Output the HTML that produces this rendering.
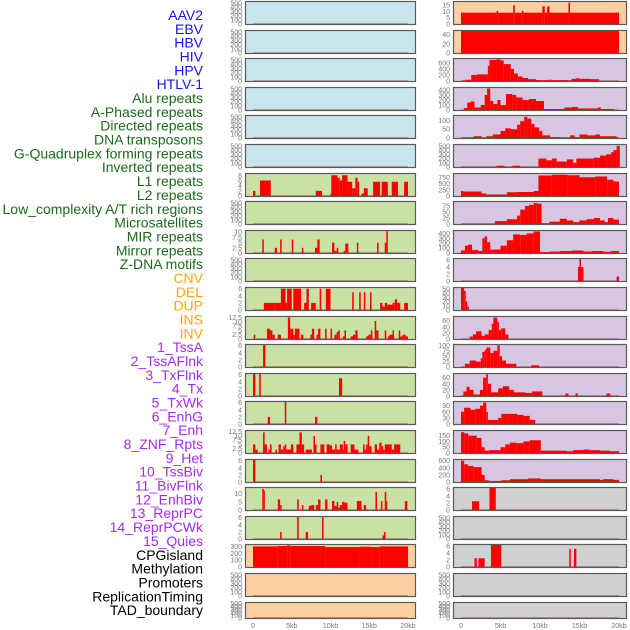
<!DOCTYPE html>
<html><head><meta charset="utf-8"><style>
html,body{margin:0;padding:0;background:#fff;width:630px;height:630px;overflow:hidden}
svg{display:block}
text{font-family:"Liberation Sans",sans-serif}
</style></head><body>
<svg id="chart" width="630" height="630" viewBox="0 0 630 630"></svg>
<script>
const labelNames=["AAV2","EBV","HBV","HIV","HPV","HTLV-1","Alu repeats","A-Phased repeats","Directed repeats","DNA transposons","G-Quadruplex forming repeats","Inverted repeats","L1 repeats","L2 repeats","Low_complexity A/T rich regions","Microsatellites","MIR repeats","Mirror repeats","Z-DNA motifs","CNV","DEL","DUP","INS","INV","1_TssA","2_TssAFlnk","3_TxFlnk","4_Tx","5_TxWk","6_EnhG","7_Enh","8_ZNF_Rpts","9_Het","10_TssBiv","11_BivFlnk","12_EnhBiv","13_ReprPC","14_ReprPCWk","15_Quies","CPGisland","Methylation","Promoters","ReplicationTiming","TAD_boundary"];
const labelGroups=[6,13,5,15,5];
const groupColors=["#1414f0","#1a6b1a","#ffa500","#a32cf0","#000000"];
const xTickVals=[0,5,10,15,20];
const xTickLabels=["0","5kb","10kb","15kb","20kb"];
const T500=[0,100,200,300,400,500];
// left column panels: ticks, ymax, step edges (kb), step values
const leftTicks=[T500,T500,T500,T500,T500,T500,[0,2,4,6,8],T500,[0,2.5,5,7.5,10],T500,[0,2,4,6],[0,2.5,5,7.5,10,12.5],[0,2,4,6],[0,2,4,6],[0,2,4,6],[0,2.5,5,7.5,10,12.5],[0,2,4,6],[0,5,10],[0,2,4,6],[0,100,200,300],T500,T500];
const leftYmax=[520,520,520,520,520,520,8.5,520,10.6,520,6.2,12.8,6.2,6.2,6.2,12.8,6.2,13.5,6.2,320,520,520];
const leftEdges=[[],[],[],[],[],[],
[0,0.3,0.9,2.3,8.1,8.9,10.0,10.1,10.9,11.2,11.5,12.2,12.8,13.2,13.5,13.7,14.0,14.3,14.8,15.5,16.4,16.6,17.4,17.9,18.7,19.5,20.0],
[],
[1.2,1.4,2.8,3.1,3.5,3.7,5.0,5.2,6.3,6.5,8.0,8.3,8.6,10.2,10.5,10.8,11.0,11.7,11.9,12.3,13.4,13.6,16.0,16.2,17.0,17.2,17.4],
[],
[1.4,2.8,3.6,4.2,4.4,5.0,5.2,6.2,6.6,6.9,7.2,7.5,8.1,8.6,8.8,9.4,10.0,12.8,13.0,13.7,13.9,14.3,14.5,15.1,15.3,16.4,16.7,17.0,17.3,18.0,18.3,18.6,19.0,19.5,20.0],
[0.1,0.3,1.8,2.2,2.5,2.8,3.2,3.6,4.5,4.8,5.2,5.4,6.0,6.2,6.5,7.4,7.6,7.9,8.2,8.4,8.7,9.3,9.5,10.0,10.2,10.5,10.8,11.0,11.2,11.6,11.8,12.0,12.6,12.9,13.2,13.5,14.6,14.9,15.2,15.4,15.7,15.9,16.2,17.0,17.2,17.4,17.6,18.0,18.2,18.8,19.0,19.3,19.7,20.0],
[1.3,1.6],
[0,0.3,0.8,1.0,11.1,11.5],
[1.9,2.2,4.1,4.3,8.0,8.3],
[0,0.3,0.6,1.3,1.5,1.8,2.0,2.2,2.4,2.9,3.1,3.3,3.6,3.9,4.1,4.3,4.9,5.2,5.6,6.0,6.3,6.6,6.8,7.3,7.6,7.8,8.0,8.2,8.7,9.2,9.5,9.9,10.2,10.6,10.8,11.2,11.6,11.7,11.9,12.2,12.6,13.1,13.6,14.2,14.4,14.6,14.8,15.0,15.3,15.7,16.0,16.3,16.6,16.8,17.0,17.9,18.2,18.5,19.0],
[0,0.3,8.7,8.9],
[1.2,1.4,1.5,3.2,3.5,3.7,5.7,5.9,6.3,6.5,7.2,7.5,7.9,8.1,8.4,8.7,9.3,9.6,10.2,10.5,10.8,11.0,11.2,11.5,11.8,12.2,13.4,14.0,14.3,14.6,15.8,16.0,16.5,16.7,17.0,17.2,17.3,19.6,19.9],
[3.5,3.7,5.7,5.9,6.8,7.1,8.9,9.1,16.7,16.9,17.1],
[0,3.2,4.4,4.8,9.3,13.8,15.3,16.3,20],
[],[]];
const leftVals=[[],[],[],[],[],[],
[2,0,6,0,2,0,1,8,7,6,8,5.5,3,7,5.5,0,1,3,0,5.5,0,5.5,0,5.5,0,5.5],
[],
[6.5,0,2.5,0,6.5,0,6.5,0,2.5,0,2.5,6.5,0,5,1,2.5,0,1,4.5,0,5,0,5,0,5,10.5],
[],
[2,2,6,2,6,0,6,0,2,6,0,2,0,6,0,6,0,5,0,5,0,5,0,5,0,2,1,2,1.5,2,3,2,0,2],
[2.5,0,6,5,2.5,0,2.5,0,12.5,6,2.5,6,0,2.5,0,2.5,6,0,2.5,6,0,6,0,6,0,2.5,4,5,0,1.5,5,0,1.5,2.5,5,0,1.5,2.5,5,0,10.5,5,0,5,0,1.5,2.5,5,0,5,1.5,2.5,1.5],
[6.2],
[6.2,0,6.2,0,5],
[2,0,6.2,0,2],
[5,2,0,12,5,0,2,5,0,2,0,5,2,4,5,2,5,0,5,12,5,0,2,2,0,10,5,0,5,0,5,4.5,2,5,2,5,2,7,5,0,5,2,0,5,2,5,10,4,0,5,2,6,4,2,5,2,5,5],
[6.2,0,2],
[13,12,0,6.5,3,0,6.5,0,3,0,2.5,3,0,3,6.5,0,6.5,0,5.5,2.5,5,1.5,3,5,4.5,0,5.5,0,3,0,11,0,5.5,0,11,5.5,0,5.5],
[2,0,6.2,0,2,0,6.2,0,1,2],
[300,305,315,305,290,295,290,300],
[],[]];
const rightTicks=[[0,5,10,15],[0,20,40],[0,200,400,600],[0,100,200,300,400],[0,50,100],T500,[0,250,500,750],[0,25,50,75],[0,100,200,300,400],[0,2,4,6],[0,10,20,30,40,50],[0,20,40,60],[0,25,50,75,100],[0,20,40,60],[0,30,60,90],[0,50,100,150],[0,200,400,600],[0,2,4,6],T500,[0,2,4,6],T500,T500];
const rightYmax=[17.5,48,730,440,125,520,880,92,450,6.3,52,72,102,72,108,190,620,6.3,520,6.3,520,520];
const rightEdges=[
[0,4.5,4.7,6.6,6.8,7.7,7.9,10.3,10.6,10.9,11.2,13.6,13.8,20],
[0,20],
[0,0.5,1.3,2,3.4,3.6,4.5,5.0,5.4,6.3,6.7,7.2,7.8,8.5,9.5,10.3,10.5,11,11.5,13.5,14,14.5,15,16.5,17.5],
[0.4,0.8,1.2,1.7,2.5,3.0,3.3,3.7,4.1,4.6,5.0,5.7,6.5,7.0,7.8,8.6,9.5,10.5,13.1,14.0,14.8,17.3,17.7,19.4],
[0,1.6,2.6,3.2,4,5,5.6,6.3,7.1,7.5,8.0,8.4,8.9,9.3,9.9,10.3,11.3,12.5,13.8,14.4,15,16,17,17.6,19.7,20],
[0,4.5,5.5,6.5,7.5,9.8,10.8,11.5,12.1,13.4,14.2,14.6,16.8,17.6,18.4,19.0,19.3,19.7,20.1],
[0,0.3,2.6,3.2,5.8,7.1,9.2,9.8,11.5,13.5,15,17,18.5,19.3,20],
[0,4.3,5.8,7.1,7.5,8.1,8.6,9.2,9.6,10.2,11.2,12.5,13.4,14.2,15,15.9,16.8,17.6,18.2,18.6,19.3,20],
[0,0.5,0.9,1.4,2.2,2.7,3.0,3.3,3.7,5.0,5.8,6.6,7.5,8.3,9.2,10,11.2,12.5,14,15.5,16.5,18,19,20],
[14.8,15.0,15.2,15.5,19.7,20],
[0,0.4,0.6,0.8,1.0],
[1.1,1.5,1.9,2.6,3.0,3.5,3.9,4.1,4.6,4.8,5.1,5.6,6.0],
[0.5,1.1,1.9,2.5,2.7,3.0,3.2,3.7,4.1,4.6,4.9,5.2,5.7,7.0,8.9,9.9],
[0.3,0.7,1.1,1.6,2.4,2.8,3.2,3.4,3.8,4.7,5.3,6.1,6.7,8.1,9.0,10.3,13.2,13.6,14.5,14.8,18.4,18.9],
[0,0.4,1.2,1.8,2.4,2.8,3.2,3.4,4.7,5.1,6.0,7.1,7.9,8.7,9.4],
[0,0.4,0.9,2.0,2.6,3.0,3.5,5.0,5.6,6.2,7.0,7.9,8.7,10.1,13.4,14.2,15.5,16.3,17.6,18.8,20],
[0,0.4,0.9,1.6,2.6,3.0,3.5,5.1,6.2,8.5,10.1,17.6,18.0,19.3,20],
[1.4,2.3,3.6,4.4],
[],
[1.7,2.0,2.2,3.0,3.8,5.1,13.7,13.9,14.3,14.6],
[],[]];
const rightVals=[
[9,10.5,9,15,9,10.5,9,14,9,14,9,17,9],
[50],
[10,40,200,220,500,700,720,680,560,400,250,150,100,60,30,20,30,40,30,20,70,90,70,60],
[40,150,170,50,100,300,430,180,120,200,100,320,300,250,200,220,180,20,50,60,30,50,20],
[3,10,3,10,20,40,55,50,75,95,120,110,80,60,40,15,5,3,15,5,20,15,20,10,3],
[3,30,3,30,3,200,160,200,130,180,100,200,220,270,300,350,400,500],
[200,180,100,60,150,160,200,820,850,830,750,780,650,580],
[1,12,20,35,60,75,80,88,85,3,10,22,15,8,15,20,25,15,8,25,18],
[50,150,170,60,40,300,340,220,70,150,260,380,370,400,440,20,30,40,50,30,40,25,40],
[4,6.3,4,0,1.3],
[52,45,20,8],
[8,15,25,10,15,30,50,70,55,30,35,15],
[15,30,25,40,70,80,90,65,75,100,50,30,15,0,8],
[15,30,20,5,20,60,72,40,12,25,32,20,12,10,15,0,8,0,8,0,8],
[60,80,70,75,90,105,60,20,30,50,50,45,40,20],
[180,170,150,130,50,20,25,50,75,90,85,100,110,20,15,25,30,25,20,15],
[600,500,450,420,200,50,30,50,80,100,80,60,80,60],
[2.5,0,6.3],
[],
[2.5,0,2.5,0,6.3,0,5.2,0,5.2],
[],[]];
const leftFill=["#c8e4ec","#c8e4ec","#c8e4ec","#c8e4ec","#c8e4ec","#c8e4ec"].concat(Array(13).fill("#c9e1a5")).concat(["#fed09f","#fed09f","#fed09f"]);
const rightFill=["#fed09f","#fed09f"].concat(Array(15).fill("#d6c6e2")).concat(Array(5).fill("#d0d0d0"));

const NS="http://www.w3.org/2000/svg";
const svg=document.getElementById('chart');
function mk(tag,attrs,parent){const e=document.createElementNS(NS,tag);for(const k in attrs)e.setAttribute(k,attrs[k]);(parent||svg).appendChild(e);return e;}

// labels
let gi=0,cnt=0;
labelNames.forEach((n,i)=>{
  while(cnt>=labelGroups[gi]){cnt-=labelGroups[gi];gi++;}
  const t=mk('text',{x:203,y:15+i*13.84+5,'text-anchor':'end','font-size':'14',fill:groupColors[gi]});
  t.textContent=n;
  
  
  cnt++;
});

function rowTop(i){return Math.round(i*28.6);}
function drawPanel(col,i,ticks,ymax,edges,vals,fill){
  const px=col===0?245:453, pw=col===0?171:174;
  const x0=col===0?253:461, x20=col===0?408:619;
  const xs=k=>x0+(x20-x0)*k/20;
  const top=rowTop(i)+1, h=(i===21)?17:24, bot=top+h;
  const ys=v=>bot-1-(h-2)*Math.min(v,ymax)/ymax;
  const g=mk('g',{});
  
  
  const bg=mk('rect',{x:px,y:top,width:pw,height:h,fill:fill},g);
  
  
  const base=mk('rect',{x:xs(0),y:bot-2,width:xs(20)-xs(0),height:2,fill:'rgba(150,20,20,0.35)'},g);
  
  
  for(let j=0;j<vals.length;j++){
    if(vals[j]<=0)continue;
    const a=xs(edges[j]),b=xs(edges[j+1]);
    const r=mk('rect',{x:a,y:ys(vals[j]),width:Math.max(b-a,1),height:bot-ys(vals[j]),fill:'#ff0000'},g);
    
    
  }
  mk('rect',{x:px+0.5,y:top+0.5,width:pw-1,height:h-1,fill:'none',stroke:'#5a5a5a','stroke-width':1.2},g);
  ticks.forEach(tv=>{
    const t=mk('text',{x:px-3,y:ys(tv)+2.5,'text-anchor':'end','font-size':'7',fill:'#777'},g);
    t.textContent=String(tv);
    
    
  });
}
for(let i=0;i<22;i++){
  drawPanel(0,i,leftTicks[i],leftYmax[i],leftEdges[i],leftVals[i],leftFill[i]);
  drawPanel(1,i,rightTicks[i],rightYmax[i],rightEdges[i],rightVals[i],rightFill[i]);
}
[[253,408],[461,619]].forEach((r,c)=>{
  xTickVals.forEach((v,k)=>{
    const t=mk('text',{x:r[0]+(r[1]-r[0])*v/20,y:628,'text-anchor':'middle','font-size':'7',fill:'#777'});
    t.textContent=xTickLabels[k];
    
    
  });
});
</script>
</body></html>
